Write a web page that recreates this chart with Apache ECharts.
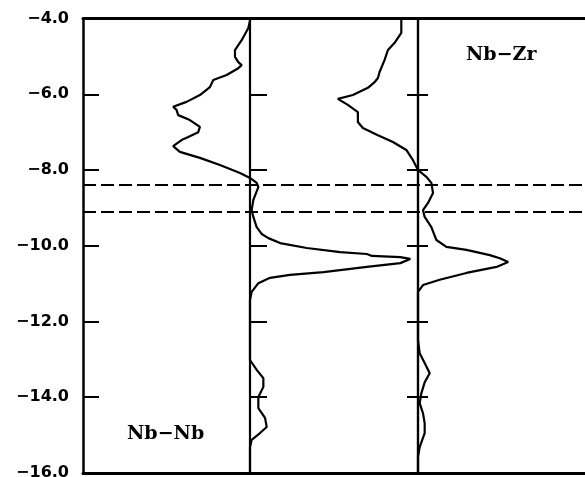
<!DOCTYPE html>
<html><head><meta charset="utf-8">
<script src="https://cdn.jsdelivr.net/npm/echarts@6/dist/echarts.min.js"></script>
<style>html,body{margin:0;padding:0;background:#fff}#c{width:585px;height:477px}</style>
</head><body><div id="c"></div>
<script>
// Energy axis (eV)
const energyMin = -16, energyMax = -4, energyStep = 2;
// Dashed reference levels
const fermiLevels = [-8.38, -9.11];
const panelLabels = ['Nb\u2212Nb', 'Nb\u2212Zr'];

// Nb-Nb COOP curve (energy, overlap population)
const nbNbEnergy = [-4.0, -4.06, -4.25, -4.57, -4.83, -5.01, -5.15, -5.23, -5.31, -5.49, -5.62, -5.81, -6.02, -6.20, -6.33,
  -6.41, -6.55, -6.68, -6.86, -7.00, -7.13, -7.21, -7.37, -7.52, -7.68, -7.87, -8.08, -8.21, -8.34, -8.45,
  -8.79, -9.06, -9.24, -9.51, -9.69, -9.80, -9.93, -10.06, -10.17, -10.22, -10.27, -10.30, -10.35, -10.46,
  -10.56, -10.70, -10.77, -10.85, -10.99, -11.22, -11.43, -13.02, -13.28, -13.50, -13.73, -14.00, -14.29,
  -14.55, -14.79, -14.95, -15.13, -15.32, -16.0];
const nbNbCoop = [0.0, 0.0, -0.01, -0.05, -0.09, -0.09, -0.07, -0.05, -0.07, -0.14, -0.22, -0.24, -0.30, -0.38, -0.46,
  -0.44, -0.43, -0.36, -0.30, -0.31, -0.37, -0.41, -0.46, -0.42, -0.30, -0.18, -0.06, 0.0, 0.04, 0.05,
  0.02, 0.01, 0.02, 0.04, 0.07, 0.11, 0.18, 0.34, 0.54, 0.70, 0.73, 0.90, 0.96, 0.90,
  0.70, 0.44, 0.24, 0.12, 0.05, 0.01, 0.0, 0.0, 0.04, 0.08, 0.08, 0.05, 0.05,
  0.09, 0.10, 0.06, 0.01, 0.0, 0.0];

// Nb-Zr COOP curve (energy, overlap population)
const nbZrEnergy = [-4.0, -4.06, -4.38, -4.64, -4.83, -5.09, -5.41, -5.57, -5.68, -5.83, -6.02, -6.12, -6.28, -6.47, -6.73,
  -6.89, -7.08, -7.26, -7.47, -7.74, -8.00, -8.18, -8.34, -8.61, -8.87, -9.06, -9.24, -9.51, -9.85, -10.03,
  -10.11, -10.25, -10.33, -10.43, -10.56, -10.72, -10.90, -11.04, -11.22, -12.49, -12.84, -13.10, -13.37,
  -13.61, -13.90, -14.16, -14.43, -14.69, -14.95, -15.32, -15.58, -16.0];
const nbZrCoop = [-0.10, -0.10, -0.10, -0.14, -0.18, -0.20, -0.23, -0.24, -0.26, -0.30, -0.39, -0.48, -0.42, -0.36, -0.36,
  -0.33, -0.24, -0.15, -0.07, -0.03, 0.0, 0.05, 0.08, 0.09, 0.06, 0.03, 0.04, 0.08, 0.11, 0.17,
  0.29, 0.43, 0.49, 0.54, 0.47, 0.29, 0.13, 0.03, 0.0, 0.0, 0.01, 0.04, 0.07,
  0.04, 0.02, 0.01, 0.03, 0.04, 0.04, 0.01, 0.0, 0.0];

const L = 83, M1 = 250, M2 = 418, R = 585, T = 18.6, B = 472.8;
const H = B - T;
const half = M1 - L;

function pairs(e, c) { return e.map((v, i) => [c[i], v]); }

const hiddenX = (g, min, max) => ({ gridIndex: g, type: 'value', min: min, max: max, show: false });
const hiddenY = (g) => ({ gridIndex: g, type: 'value', min: energyMin, max: energyMax, show: false });
const tickY = (g, pos, len) => ({
  gridIndex: g, type: 'value', position: pos, min: energyMin, max: energyMax, interval: energyStep,
  axisLine: { show: true, onZero: false, lineStyle: { color: '#000', width: 2.2 } },
  axisTick: { show: true, inside: true, length: len, lineStyle: { color: '#000', width: 2 } },
  axisLabel: { show: false }, splitLine: { show: false }
});
const mkGrid = (left, width) => ({ left: left, top: T, width: width, height: H, outerBoundsMode: 'none', containLabel: false });

const chart = echarts.init(document.getElementById('c'), null, { renderer: 'canvas' });
chart.setOption({
  animation: false,
  backgroundColor: '#fff',
  grid: [
    mkGrid(L, R - L),
    mkGrid(M1, M2 - M1),
    mkGrid(M2, R - M2),
    mkGrid(L, 2 * half),
    mkGrid(M2 - half, 2 * half)
  ],
  xAxis: [
    { gridIndex: 0, type: 'value', min: 0, max: 1, position: 'bottom',
      axisLine: { show: true, onZero: false, lineStyle: { color: '#000', width: 3 } },
      axisTick: { show: false }, axisLabel: { show: false }, splitLine: { show: false } },
    { gridIndex: 0, type: 'value', min: 0, max: 1, position: 'top',
      axisLine: { show: true, onZero: false, lineStyle: { color: '#000', width: 3 } },
      axisTick: { show: false }, axisLabel: { show: false }, splitLine: { show: false } },
    hiddenX(1, 0, 1),
    hiddenX(2, 0, 1),
    hiddenX(3, -1, 1),
    hiddenX(4, -1, 1)
  ],
  yAxis: [
    { gridIndex: 0, type: 'value', position: 'left', min: energyMin, max: energyMax, interval: energyStep,
      axisLine: { show: true, onZero: false, lineStyle: { color: '#000', width: 2.5 } },
      axisTick: { show: true, inside: true, length: 16, lineStyle: { color: '#000', width: 2 } },
      axisLabel: { show: true, margin: 14, color: '#000', fontFamily: 'DejaVu Sans', fontWeight: 'bold', fontSize: 16,
        hideOverlap: false, showMinLabel: true, showMaxLabel: true,
        formatter: v => (v < 0 ? '\u2212' : '') + Math.abs(v).toFixed(1) },
      splitLine: { show: false } },
    tickY(1, 'left', 17),
    tickY(1, 'right', 11),
    tickY(2, 'left', 10),
    hiddenY(3),
    hiddenY(4)
  ],
  series: [
    { type: 'line', xAxisIndex: 0, yAxisIndex: 0, data: [], silent: true,
      markLine: { silent: true, symbol: 'none', label: { show: false },
        lineStyle: { color: '#000', width: 2, type: [13, 5] },
        data: fermiLevels.map(v => ({ yAxis: v })) } },
    { type: 'line', xAxisIndex: 4, yAxisIndex: 4, data: pairs(nbNbEnergy, nbNbCoop), showSymbol: false,
      lineStyle: { color: '#000', width: 2.2 }, silent: true },
    { type: 'line', xAxisIndex: 5, yAxisIndex: 5, data: pairs(nbZrEnergy, nbZrCoop), showSymbol: false,
      lineStyle: { color: '#000', width: 2.2 }, silent: true }
  ],
  graphic: [
    { type: 'text', left: 127, top: 425, style: { text: panelLabels[0], fill: '#000', font: 'bold 19px "DejaVu Serif"' } },
    { type: 'text', left: 466, top: 46, style: { text: panelLabels[1], fill: '#000', font: 'bold 19px "DejaVu Serif"' } }
  ]
});
</script>
</body></html>
